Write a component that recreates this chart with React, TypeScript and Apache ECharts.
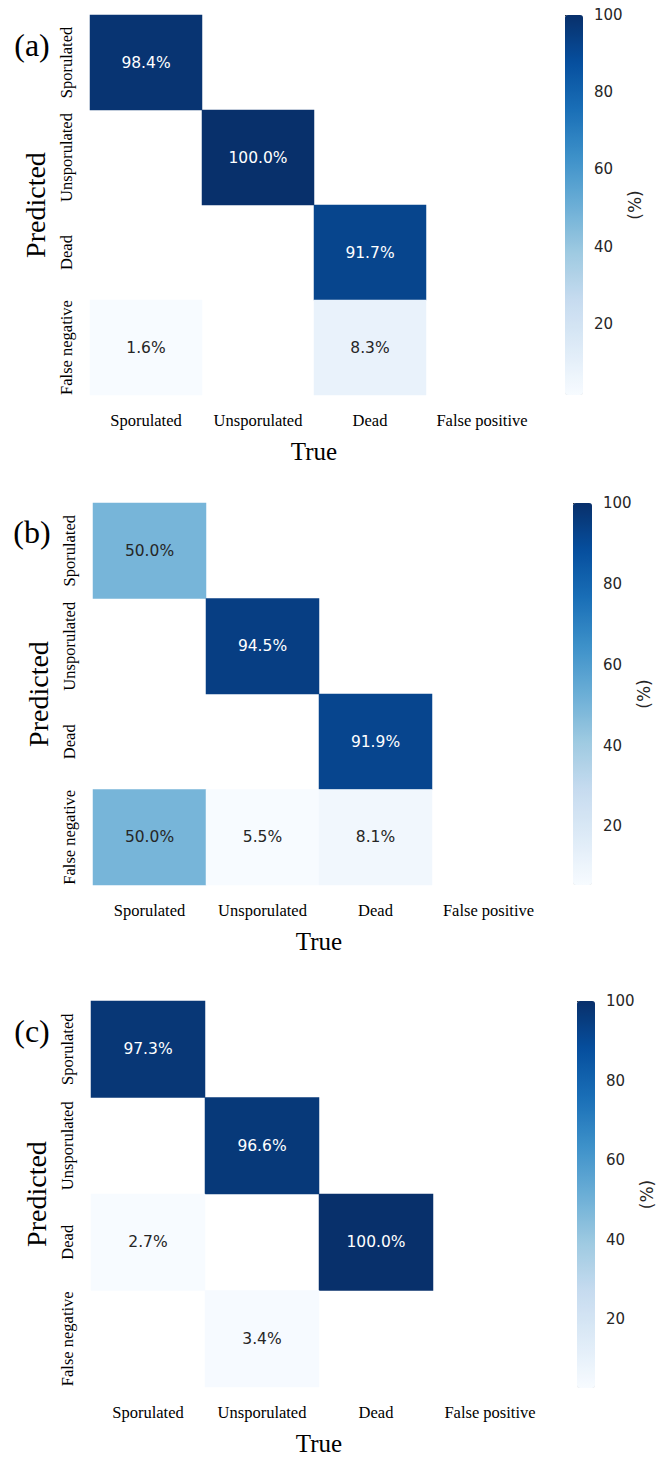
import React, { useEffect, useRef } from "react";
import * as echarts from "echarts";

// Categories
const TRUE_LABELS = ["Sporulated", "Unsporulated", "Dead", "False positive"];
const PRED_LABELS = ["Sporulated", "Unsporulated", "Dead", "False negative"];
const PANEL_TAGS = ["(a)", "(b)", "(c)"];
const CB_TICKS = [20, 40, 60, 80, 100];

// Confusion matrices (rows = predicted, cols = true), null = masked zero cell
const matrixA = [
  [98.4, null, null, null],
  [null, 100.0, null, null],
  [null, null, 91.7, null],
  [1.6, null, 8.3, null],
];
const matrixB = [
  [50.0, null, null, null],
  [null, 94.5, null, null],
  [null, null, 91.9, null],
  [50.0, 5.5, 8.1, null],
];
const matrixC = [
  [97.3, null, null, null],
  [null, 96.6, null, null],
  [2.7, null, 100.0, null],
  [null, 3.4, null, null],
];
const MATRICES = [matrixA, matrixB, matrixC];

// matplotlib "Blues"
const BLUES = ["#f7fbff", "#deebf7", "#c6dbef", "#9ecae1", "#6baed6", "#3d91c9", "#1a6fb7", "#064f9e", "#08306b"];

const LAYOUT = [
  { left: 90, top: 15, width: 448, height: 380, cbLeft: 565, cbWidth: 18, tagY: 45 },
  { left: 93, top: 503, width: 452, height: 382, cbLeft: 573, cbWidth: 19, tagY: 532 },
  { left: 91, top: 1001, width: 456, height: 387, cbLeft: 577, cbWidth: 18, tagY: 1031 },
];

const SERIF = "'Liberation Serif', 'Times New Roman', serif";
const SANS = "'DejaVu Sans', sans-serif";

export default function App() {
  const ref = useRef<HTMLDivElement>(null);
  useEffect(() => {
    if (!ref.current) return;
    const chart = echarts.init(ref.current, null, { renderer: "svg" });
    const grids: any[] = [];
    const xAxes: any[] = [];
    const yAxes: any[] = [];
    const series: any[] = [];
    const visualMaps: any[] = [];
    const graphics: any[] = [];

    MATRICES.forEach((m, i) => {
      const L = LAYOUT[i];
      const vals: number[] = [];
      m.forEach((row) => row.forEach((v) => { if (v !== null) vals.push(v as number); }));
      const vmin = Math.min(...vals);
      const vmax = 100;
      const data: any[] = [];
      m.forEach((row, r) => row.forEach((v, c) => {
        if (v === null) return;
        const t = ((v as number) - vmin) / (vmax - vmin);
        data.push({ value: [c, r, v], label: { color: t > 0.6 ? "#ffffff" : "#262626" } });
      }));

      // main heatmap grid
      grids.push({ left: L.left, top: L.top, width: L.width, height: L.height, containLabel: false });
      xAxes.push({
        type: "category", gridIndex: i * 2, data: TRUE_LABELS,
        axisLine: { show: false }, axisTick: { show: false }, splitLine: { show: false },
        axisLabel: { fontFamily: SERIF, fontSize: 16.5, color: "#000", margin: 17, interval: 0 },
        name: "True", nameLocation: "middle", nameGap: 44,
        nameTextStyle: { fontFamily: SERIF, fontSize: 25, color: "#000" },
      });
      yAxes.push({
        type: "category", gridIndex: i * 2, data: PRED_LABELS, inverse: true,
        axisLine: { show: false }, axisTick: { show: false }, splitLine: { show: false },
        axisLabel: { fontFamily: SERIF, fontSize: 16.5, color: "#000", margin: 15, rotate: 90, interval: 0 },
        name: "Predicted", nameLocation: "middle", nameGap: 41, nameRotate: 90,
        nameTextStyle: { fontFamily: SERIF, fontSize: 28, color: "#000" },
      });
      // colorbar grid
      grids.push({ left: L.cbLeft, top: L.top, width: L.cbWidth, height: L.height });
      xAxes.push({ type: "value", gridIndex: i * 2 + 1, show: false, min: 0, max: 1 });
      yAxes.push({
        type: "value", gridIndex: i * 2 + 1, min: vmin, max: vmax, position: "right",
        axisLine: { show: false }, splitLine: { show: false },
        axisTick: { show: true, length: 5, lineStyle: { color: "#262626", width: 1 }, customValues: CB_TICKS },
        axisLabel: { fontFamily: SANS, fontSize: 15, color: "#262626", margin: 11, customValues: CB_TICKS },
        name: "(%)", nameLocation: "middle", nameGap: 37, nameRotate: 90,
        nameTextStyle: { fontFamily: SANS, fontSize: 17, color: "#262626" },
      });

      series.push({
        type: "heatmap", xAxisIndex: i * 2, yAxisIndex: i * 2, data,
        label: {
          show: true, fontFamily: SANS, fontSize: 15.5,
          formatter: (p: any) => (p.value[2] as number).toFixed(1) + "%",
        },
        emphasis: { disabled: true },
      });

      visualMaps.push({
        type: "continuous", seriesIndex: i, min: vmin, max: vmax, calculable: false,
        inRange: { color: BLUES }, orient: "vertical",
        left: L.cbLeft, top: L.top, itemWidth: L.cbWidth, itemHeight: L.height,
        padding: 0, text: null, hoverLink: false,
      });

      graphics.push({
        type: "text", x: 32, y: L.tagY,
        style: { text: PANEL_TAGS[i], font: `32px ${SERIF}`, fill: "#000", textAlign: "center", textVerticalAlign: "middle" },
      });
    });

    chart.setOption({
      animation: false,
      backgroundColor: "#ffffff",
      grid: grids,
      xAxis: xAxes,
      yAxis: yAxes,
      visualMap: visualMaps,
      series,
      graphic: graphics,
    });
    return () => chart.dispose();
  }, []);
  return <div ref={ref} style={{ position: "absolute", left: 0, top: 0, width: 660, height: 1457 }} />;
}
